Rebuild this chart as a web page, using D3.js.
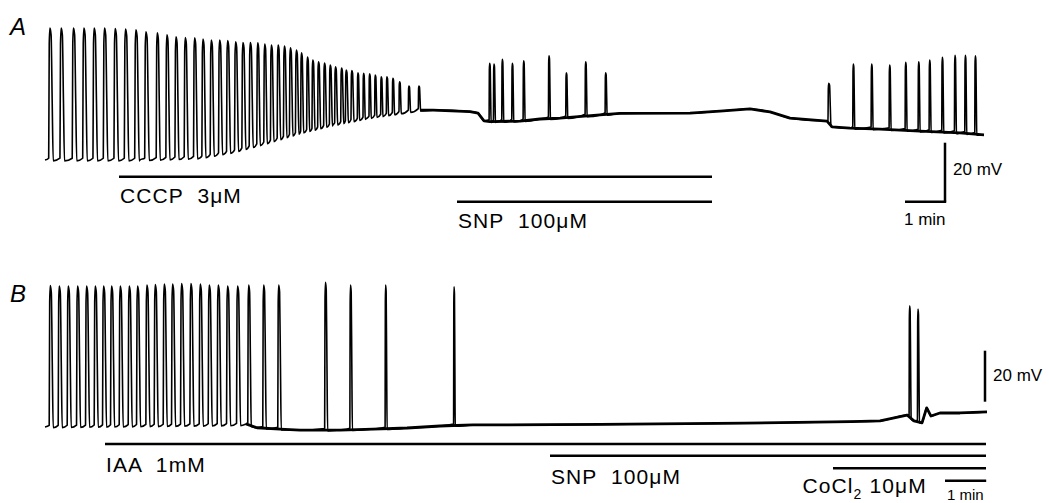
<!DOCTYPE html>
<html><head><meta charset="utf-8">
<script src="https://cdn.jsdelivr.net/npm/d3@7/dist/d3.min.js"></script>
<style>
html,body{margin:0;padding:0;background:#fff;}
svg{display:block;}
text{font-family:"Liberation Sans",Arial,Helvetica,sans-serif;fill:#000;white-space:pre;}
</style></head><body>
<svg id="fig" width="1049" height="503"></svg>
<script>
// ---------- DATA (time in s, membrane potential in mV) ----------
// Panel A: spike times, peak potentials, spike durations
const spikeTimesA = [
  8.6, 25.5, 43.9, 59.6, 75, 90.5, 106.5, 122, 137.6, 152.6,
  169.5, 184, 197.6, 211.5, 225.5, 238, 250.5, 263, 275, 287,
  298, 309, 320, 330.5, 340.5, 350.6, 360, 369, 378,
  385.5, 394.5, 402.5, 411, 420, 428.6, 436.5, 445.6, 452.6, 461,
  470, 478.5, 487.5, 496, 505, 513.5, 522.5, 532.5, 546.5, 561.5,
  667.5, 674, 686.5, 701.5, 718.5, 756.5, 782.5, 811.5, 841.5,
  1176.5, 1213, 1240.5, 1267.5, 1291.5, 1311, 1327.5, 1346.5, 1365.5, 1381, 1396
];
const spikePeaksA = [
  -15.3, -15.3, -15.3, -15.3, -15.3, -15.3, -15.4, -15.6, -15.9, -16.5,
  -16.9, -17.6, -18.2, -18.5, -18.6, -19.0, -19.3, -19.3, -19.5, -19.9,
  -20.2, -20.2, -20.3, -20.7, -21.0, -21.0, -21.4, -22.0, -22.7,
  -23.7, -25.1, -26.1, -26.7, -27.1, -27.8, -28.4, -28.8, -29.5, -29.7,
  -30.4, -30.6, -30.8, -31.2, -31.8, -31.8, -32.3, -33.5, -34.9, -34.9,
  -27.2, -27.5, -25.9, -27.2, -26.4, -24.7, -30.4, -26.7, -30.4,
  -34.0, -27.5, -27.5, -27.8, -26.9, -26.7, -26.1, -25.2, -24.5, -24.5, -24.7
];
const spikeWidthsA = [
  6.8, 6.8, 6.8, 6.8, 6.8, 6.8, 6.8, 6.8, 6.8, 6.8,
  6.0, 6.0, 6.0, 6.0, 6.0, 6.0, 6.0, 6.0, 6.0, 6.0,
  6.0, 6.0, 5.2, 5.2, 5.2, 5.2, 5.2, 5.2, 5.2,
  4.5, 4.5, 4.5, 4.5, 4.5, 4.5, 4.5, 4.5, 4.5, 4.5,
  3.4, 3.4, 3.4, 3.4, 3.4, 3.4, 3.4, 3.4, 3.4, 3.4,
  3, 3, 3, 3, 3, 3, 3, 3, 3,
  4.5, 3, 3, 3, 3, 3, 3, 3, 3, 3, 3
];
// Panel A: inter-spike membrane potential
const baseTimesA = [0, 142.5, 232.5, 282, 333, 382.5, 432, 483, 532.5, 562.5, 582, 637.5, 649.5, 658.5, 667.5,
  712.5, 742.5, 772.5, 832.5, 862.5, 967.5, 1012.5, 1057.5, 1087.5, 1117.5, 1173, 1180.5, 1207.5, 1252.5, 1312.5, 1372.5, 1408.5];
const baseVoltsA = [-60, -60, -59.3, -57.3, -54.2, -50.8, -48.1, -45.8, -44.1, -43.1, -43.1, -43.6, -44.1, -46.7, -47.0,
  -46.8, -46.1, -45.8, -44.7, -44.2, -44.1, -43.4, -42.7, -43.7, -45.8, -46.8, -48.8, -49.2, -49.5, -50.2, -50.8, -51.5];

// Panel B
const spikeTimesB = [
  9, 22.5, 36, 50, 63.5, 76.5, 89, 101, 114, 127.5,
  140, 154, 166.5, 180, 192.5, 206, 220, 234, 247.5, 261,
  275, 290, 306.5, 329, 351.5, 421.5, 459, 511.5, 614, 1297.5, 1310
];
const spikePeaksB = [
  -4.5, -4.7, -4.7, -4.7, -4.7, -4.7, -4.7, -4.7, -4.7, -4.7,
  -4.7, -4.3, -4.1, -3.9, -3.9, -3.7, -3.7, -3.9, -4.3, -4.3,
  -4.7, -4.7, -4.3, -4.3, -4.3, -3.3, -4.3, -4.3, -5.0, -12.5, -13.7
];
const spikeWidthsB = [
  6, 6, 6, 6, 6, 6, 6, 6, 6, 6,
  6, 6, 6, 6, 6, 6, 6, 6, 6, 6,
  6, 6, 5.2, 5.2, 5.2, 4.5, 3.8, 3.0, 2.4, 3, 3
];
const baseTimesB = [0, 292.5, 301.5, 318, 352.5, 382.5, 442.5, 492, 543, 592.5, 642, 832.5, 1050, 1209, 1252.5, 1272, 1293,
  1303.5, 1315.5, 1322.5, 1329, 1342.5, 1372.5, 1413];
const baseVoltsB = [-60, -59.2, -58.8, -60.3, -60.8, -61.2, -61.2, -60.8, -60.4, -59.6, -59.2, -59.0, -58.5, -57.9, -57.6, -56.5, -55.3,
  -57.6, -58.4, -52.5, -55.7, -54.5, -54.5, -54.1];

// Drug applications (s)
const drugLabelsA = ["CCCP  3\u03bcM", "SNP  100\u03bcM"];
const drugStartA = [111, 618];
const drugEndA = [1000.5, 1000.5];
const drugLabelsB = ["IAA  1mM", "SNP  100\u03bcM", "CoCl2 10\u03bcM"];
const drugStartB = [90, 757.5, 1182];
const drugEndB = [1411.5, 1411.5, 1411.5];

// Scale bars
const scaleTime = 60;      // s  -> "1 min"
const scaleVolt = 20;      // mV -> "20 mV"

// ---------- DRAWING ----------
const svg = d3.select("#fig");
const x = d3.scaleLinear().domain([0, 1413]).range([45, 987]);
const yA = d3.scaleLinear().domain([-60, -20]).range([160, 42]);
const yB = d3.scaleLinear().domain([-60, -20]).range([427, 325]);

function buildTrace(times, peaks, widths, bT, bV) {
  const base = d3.scaleLinear().domain(bT).range(bV).clamp(true);
  const spikes = times.map((t, i) => ({t: t, v: peaks[i], w: widths[i]}));
  const win = spikes.map(s => [s.t - 0.45 * s.w - 0.3, s.t + 0.55 * s.w + 0.3]);
  const pts = [];
  bT.forEach((t, i) => {
    if (!win.some(([a, b]) => t >= a && t <= b)) pts.push([t, bV[i]]);
  });
  spikes.forEach(s => {
    const t0 = s.t - 0.45 * s.w, t5 = s.t + 0.55 * s.w;
    const b0 = base(t0), b1 = base(t5);
    const amp = s.v - b0;
    pts.push([t0, b0 + 0.6]);
    pts.push([s.t - 0.33 * s.w, b0 + 0.88 * amp]);
    pts.push([s.t - 0.18 * s.w, s.v]);
    pts.push([s.t + 0.08 * s.w, s.v - 0.05 * amp]);
    pts.push([s.t + 0.32 * s.w, b1 + 0.45 * (s.v - b1)]);
    pts.push([t5, b1 - 0.3]);
  });
  pts.sort((a, b) => a[0] - b[0]);
  return pts;
}

function drawTrace(times, peaks, widths, bT, bV, y, quietFrom) {
  const pts = buildTrace(times, peaks, widths, bT, bV);
  const line = d3.line().x(d => x(d[0])).y(d => y(d[1])).curve(d3.curveMonotoneX);
  svg.append("path").attr("d", line(pts))
    .attr("fill", "none").attr("stroke", "#000").attr("stroke-width", 1.6)
    .attr("stroke-linejoin", "round");
  const bl = d3.line().x(d => x(d[0])).y(d => y(d[1]));
  const q = bT.map((t, i) => [t, bV[i]]).filter(d => d[0] >= quietFrom);
  svg.append("path").attr("d", bl(q))
    .attr("fill", "none").attr("stroke", "#000").attr("stroke-width", 2.8)
    .attr("stroke-linejoin", "round");
}

drawTrace(spikeTimesA, spikePeaksA, spikeWidthsA, baseTimesA, baseVoltsA, yA, 560);
drawTrace(spikeTimesB, spikePeaksB, spikeWidthsB, baseTimesB, baseVoltsB, yB, 300);

function drawDrugs(labels, starts, ends, barY, textY, textX) {
  labels.forEach((lab, i) => {
    svg.append("line")
      .attr("x1", x(starts[i])).attr("x2", x(ends[i]))
      .attr("y1", barY[i]).attr("y2", barY[i])
      .attr("stroke", "#000").attr("stroke-width", 2.5);
    const t = svg.append("text")
      .attr("x", textX[i] != null ? textX[i] : x(starts[i]) + 1)
      .attr("y", textY[i])
      .attr("font-size", 21).attr("letter-spacing", 1.1)
      .attr("xml:space", "preserve");
    const m = lab.match(/^(CoCl)2(.*)$/);
    if (m) {
      t.append("tspan").text(m[1]);
      t.append("tspan").attr("font-size", 14).attr("dy", 6).text("2");
      t.append("tspan").attr("dy", -6).text(m[2]);
    } else {
      t.text(lab);
    }
  });
}
drawDrugs(drugLabelsA, drugStartA, drugEndA, [176.8, 201.7], [202.7, 228.2], [null, null]);
drawDrugs(drugLabelsB, drugStartB, drugEndB, [444, 455.8, 468.3], [471.7, 483.8, 493.2], [null, null, 802.5]);

// scale bars
function scaleBar(xEndT, vBottom, y, hText, vText, hy) {
  const xr = x(xEndT), xl = x(xEndT - scaleTime);
  const h = y(-60) - y(-60 + scaleVolt);
  svg.append("line").attr("x1", xr).attr("x2", xr).attr("y1", vBottom).attr("y2", vBottom - h)
    .attr("stroke", "#000").attr("stroke-width", 2.5);
  svg.append("line").attr("x1", xl).attr("x2", xr + 1.2).attr("y1", hy).attr("y2", hy)
    .attr("stroke", "#000").attr("stroke-width", 2.5);
  svg.append("text").attr("x", vText[0]).attr("y", vText[1]).attr("font-size", 17).text(scaleVolt + " mV");
  svg.append("text").attr("x", hText[0]).attr("y", hText[1]).attr("font-size", hText[2]).text("1 min");
}
scaleBar(1350, 201.7, yA, [904, 224.5, 17], [953, 175], 201.7);
scaleBar(1410, 401.7, yB, [947, 500, 15], [993, 380.7], 480.7);

// panel letters
svg.append("text").attr("x", 10).attr("y", 35).attr("font-size", 24).attr("font-style", "italic").text("A");
svg.append("text").attr("x", 10).attr("y", 302).attr("font-size", 24).attr("font-style", "italic").text("B");
</script>
</body></html>
